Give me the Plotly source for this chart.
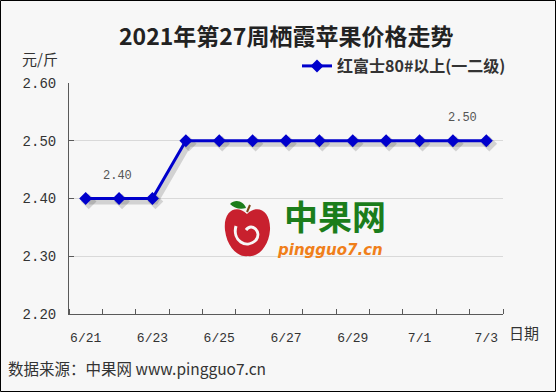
import plotly.graph_objects as go

# ---- data ----
dates = ["6/21", "6/22", "6/23", "6/24", "6/25", "6/26", "6/27",
         "6/28", "6/29", "6/30", "7/1", "7/2", "7/3"]
prices = [2.40, 2.40, 2.40, 2.50, 2.50, 2.50, 2.50,
          2.50, 2.50, 2.50, 2.50, 2.50, 2.50]
series_name = "红富士80#以上(一二级)"
title_text = "2021年第27周栖霞苹果价格走势"
y_ticks = [2.20, 2.30, 2.40, 2.50, 2.60]
label_points = [1, 11]   # indices of points carrying a value label

W, H = 556, 392
L, R, T, B = 69, 503, 83, 314   # plot area in pixels
pw, ph = R - L, B - T

def px(x):
    return (x - L) / pw

def py(y):
    return (B - y) / ph

xs = list(range(len(dates)))
x_lo, x_hi = -0.5, len(dates) - 0.5
y_lo, y_hi = 2.20, 2.60
# shadow offset (3px right, 3px down)
dx = 3 * (x_hi - x_lo) / pw
dy = 3 * (y_hi - y_lo) / ph

fig = go.Figure()

# shadow on base axes
fig.add_trace(go.Scatter(
    x=xs, y=prices, mode="lines+markers", xaxis="x", yaxis="y",
    line=dict(color="rgba(0,0,0,0.15)", width=6),
    marker=dict(symbol="diamond", size=12, color="rgba(0,0,0,0.15)"),
    showlegend=False, hoverinfo="skip"))

# main series on overlaying axes
fig.add_trace(go.Scatter(
    x=xs, y=prices, mode="lines+markers", xaxis="x2", yaxis="y2",
    name=series_name,
    line=dict(color="#0000cc", width=3),
    marker=dict(symbol="diamond", size=10, color="#0000cc"),
    showlegend=True))

axis_col = "#595959"
fig.update_layout(
    width=W, height=H,
    margin=dict(l=L, r=W - R, t=T, b=H - B),
    paper_bgcolor="#f7f7f7", plot_bgcolor="#f7f7f7",
    font=dict(family="Noto Sans CJK SC", color="#333333"),
    xaxis=dict(range=[x_lo - dx, x_hi - dx], visible=False, fixedrange=True),
    yaxis=dict(range=[y_lo + dy, y_hi + dy], visible=False, fixedrange=True),
    xaxis2=dict(
        overlaying="x", anchor="y2", range=[x_lo, x_hi],
        tickvals=xs[::2], ticktext=dates[::2],
        ticks="", showgrid=False, zeroline=False,
        showline=True, linecolor=axis_col, linewidth=1,
        tickfont=dict(family="Liberation Mono", size=13, color="#333333"),
        minor=dict(ticks="inside", ticklen=5, tickcolor=axis_col,
                   tick0=-0.5, dtick=1, showgrid=False),
        ticklabelstandoff=11,
    ),
    yaxis2=dict(
        overlaying="y", anchor="x2", side="left", range=[y_lo, y_hi],
        tickvals=y_ticks, ticktext=["%.2f" % v for v in y_ticks],
        ticks="inside", ticklen=5, tickcolor=axis_col,
        showgrid=True, gridcolor="#d9d9d9", gridwidth=1, zeroline=False,
        showline=True, linecolor=axis_col, linewidth=1,
        tickfont=dict(family="Liberation Mono", size=14, color="#333333"),
        ticklabelstandoff=9,
    ),
    legend=dict(
        x=px(297), y=py(66), xanchor="left", yanchor="middle",
        bgcolor="rgba(0,0,0,0)", borderwidth=0,
        font=dict(family="Noto Sans CJK SC", size=16, color="#333333", weight="bold"),
        itemwidth=30,
    ),
    showlegend=True,
)

def note(x, y, text, size, color="#333333", family="Noto Sans CJK SC", xanchor="center"):
    fig.add_annotation(x=px(x), y=py(y), xref="paper", yref="paper",
                       xanchor=xanchor, yanchor="middle",
                       text=text, showarrow=False,
                       font=dict(family=family, size=size, color=color))

note(286, 35, "<b>" + title_text + "</b>", 23, color="#222222")   # title
note(40, 59, "元/斤", 15)                                            # y unit
note(507, 332, "日期", 15, xanchor="left")                           # x unit
note(6, 368, "数据来源：中果网 www.pingguo7.cn", 15.5, xanchor="left")  # source

# value labels
for i in label_points:
    fig.add_annotation(x=xs[i], y=prices[i], xref="x2", yref="y2",
                       xanchor="center", yanchor="middle",
                       text="%.2f" % prices[i], showarrow=False,
                       yshift=23, xshift=(-2 if i < 5 else 10),
                       font=dict(family="Liberation Mono", size=12, color="#555555"))

# watermark logo (decoration)
def P(x, y):
    return "%.4f,%.4f" % (px(x), py(y))

apple = ("M " + P(247, 214) +
         " C " + P(237, 204) + " " + P(223, 210) + " " + P(225, 230) +
         " C " + P(227, 248) + " " + P(239, 258) + " " + P(248, 256) +
         " C " + P(257, 258) + " " + P(269, 247) + " " + P(270, 230) +
         " C " + P(271, 210) + " " + P(257, 204) + " " + P(247, 214) + " Z")
fig.add_shape(type="path", path=apple, xref="paper", yref="paper",
              fillcolor="#c8202e", line=dict(width=0), layer="above")
swirl = ("M " + P(236, 226) +
         " C " + P(232, 240) + " " + P(246, 250) + " " + P(256, 240) +
         " C " + P(262, 232) + " " + P(252, 222) + " " + P(246, 230))
fig.add_shape(type="path", path=swirl, xref="paper", yref="paper",
              line=dict(color="#f7f7f7", width=3), layer="above")
leaf = ("M " + P(230, 204) + " C " + P(236, 198) + " " + P(244, 202) + " " +
        P(246, 208) + " C " + P(240, 210) + " " + P(234, 208) + " " + P(230, 204) + " Z")
fig.add_shape(type="path", path=leaf, xref="paper", yref="paper",
              fillcolor="#1b7d1b", line=dict(width=0), layer="above")
fig.add_shape(type="line", x0=px(247), y0=py(212), x1=px(250), y1=py(205),
              xref="paper", yref="paper", line=dict(color="#7a4a1a", width=2),
              layer="above")
note(335, 215, "<b>中果网</b>", 34, color="#1b7d1b")
note(330, 250, "<b><i>pingguo7.cn</i></b>", 15, color="#f07f1a", family="DejaVu Sans")

# outer border
fig.add_shape(type="rect", xref="paper", yref="paper",
              x0=px(0.5), y0=py(0.5), x1=px(W - 0.5), y1=py(H - 0.5),
              line=dict(color="#000000", width=1), layer="above")

fig.write_html("out.html", config={"displayModeBar": False},
               post_script="document.body.style.margin='0px';")
